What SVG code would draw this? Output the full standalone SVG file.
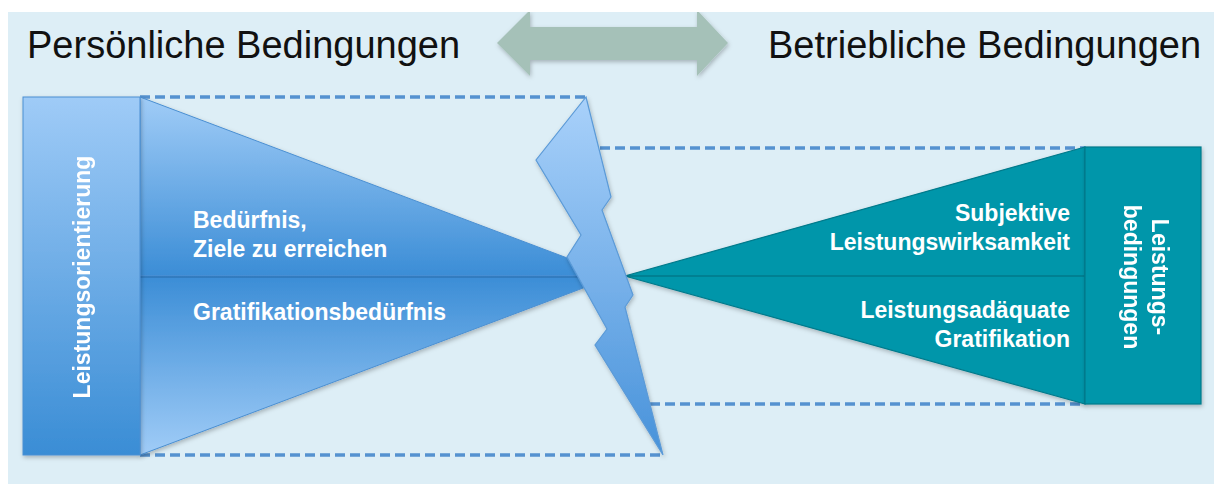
<svg xmlns="http://www.w3.org/2000/svg" width="1214" height="484" viewBox="0 0 1214 484">
  <style>
    .title { font-family: "Liberation Sans", Arial, Helvetica, sans-serif; font-size: 38px; fill: #111111; }
    .lbl { font-family: "Liberation Sans", Arial, Helvetica, sans-serif; font-size: 23px; font-weight: bold; fill: #ffffff; }
    .dash { fill: none; stroke: #5592d0; stroke-width: 3.5; stroke-dasharray: 10 5; }
    .teal { fill: #0096aa; stroke: #007a8b; stroke-width: 1.2; }
    .div { stroke-width: 1.5; fill: none; }
  </style>
  <defs>
    <linearGradient id="gBox" x1="0" y1="0" x2="0" y2="1">
      <stop offset="0" stop-color="#9fcbf7"/>
      <stop offset="1" stop-color="#3a8dd5"/>
    </linearGradient>
    <linearGradient id="gUp" x1="0" y1="0" x2="0" y2="1">
      <stop offset="0" stop-color="#a0ccf7"/>
      <stop offset="1" stop-color="#3b8dd6"/>
    </linearGradient>
    <linearGradient id="gDown" x1="0" y1="0" x2="0" y2="1">
      <stop offset="0" stop-color="#3b8dd6"/>
      <stop offset="1" stop-color="#a0ccf7"/>
    </linearGradient>
    <linearGradient id="gBolt" x1="0" y1="0" x2="0" y2="1">
      <stop offset="0" stop-color="#a9d1fa"/>
      <stop offset="1" stop-color="#4792da"/>
    </linearGradient>
    <filter id="sh" x="-10%" y="-10%" width="130%" height="130%">
      <feDropShadow dx="1" dy="2" stdDeviation="2" flood-color="#000000" flood-opacity="0.25"/>
    </filter>
    <clipPath id="bgClip">
      <rect x="8" y="12" width="1206" height="472"/>
    </clipPath>
  </defs>

  <rect x="0" y="0" width="1214" height="484" fill="#ffffff"/>
  <rect x="8" y="12" width="1206" height="472" fill="#ddeef6"/>

  <g id="title-left">
    <text class="title" x="27" y="58">Persönliche Bedingungen</text>
  </g>
  <g id="title-right">
    <text class="title" x="768" y="58">Betriebliche Bedingungen</text>
  </g>

  <g id="double-arrow" clip-path="url(#bgClip)">
    <polygon points="497,43 530,10 530,27 697,27 697,10 728,43 697,76 697,60 530,60 530,76" fill="#a5c1b8" filter="url(#sh)"/>
  </g>

  <g id="connectors">
    <line class="dash" x1="140" y1="97" x2="586" y2="97"/>
    <line class="dash" x1="140" y1="455" x2="663" y2="455"/>
    <line class="dash" x1="600" y1="148" x2="1085" y2="148"/>
    <line class="dash" x1="650" y1="404" x2="1085" y2="404"/>
  </g>

  <g id="left-funnel" filter="url(#sh)">
    <polygon points="140,97 615,276 140,276" fill="url(#gUp)" stroke="#4a8fd2" stroke-width="1"/>
    <polygon points="140,276 615,276 140,455" fill="url(#gDown)" stroke="#4a8fd2" stroke-width="1"/>
    <line class="div" x1="140" y1="277" x2="612" y2="277" stroke="#2f76b8"/>
  </g>

  <g id="left-box" filter="url(#sh)">
    <rect x="23" y="97" width="117" height="358" fill="url(#gBox)" stroke="#4a8fd2" stroke-width="1"/>
    <text class="lbl" text-anchor="middle" transform="translate(90,277) rotate(-90)">Leistungsorientierung</text>
  </g>

  <g id="right-funnel" filter="url(#sh)">
    <polygon class="teal" points="1085,147 1085,404 625,276"/>
    <line class="div" x1="628" y1="276" x2="1085" y2="276" stroke="#00788a"/>
  </g>

  <g id="right-box" filter="url(#sh)">
    <rect class="teal" x="1085" y="147" width="116" height="257"/>
    <text class="lbl" text-anchor="middle" transform="translate(1152,277) rotate(90)"><tspan x="0" y="0">Leistungs-</tspan><tspan x="0" y="28">bedingungen</tspan></text>
  </g>

  <g id="bolt" filter="url(#sh)">
    <polygon points="586,97 611,197 602,210 633,295 625,307 663,455 595,345 607,329 567,257 581,235 536,160" fill="url(#gBolt)" stroke="#5b9ad7" stroke-width="1.2" stroke-linejoin="miter"/>
  </g>

  <g id="label-beduerfnis">
    <text class="lbl"><tspan x="193" y="228">Bedürfnis,</tspan><tspan x="193" y="257">Ziele zu erreichen</tspan></text>
  </g>
  <g id="label-gratifikationsbeduerfnis">
    <text class="lbl" x="193" y="320">Gratifikationsbedürfnis</text>
  </g>
  <g id="label-subjektive">
    <text class="lbl" text-anchor="end"><tspan x="1070" y="221">Subjektive</tspan><tspan x="1070" y="250">Leistungswirksamkeit</tspan></text>
  </g>
  <g id="label-leistungsadaequate">
    <text class="lbl" text-anchor="end"><tspan x="1070" y="318">Leistungsadäquate</tspan><tspan x="1070" y="347">Gratifikation</tspan></text>
  </g>
</svg>
